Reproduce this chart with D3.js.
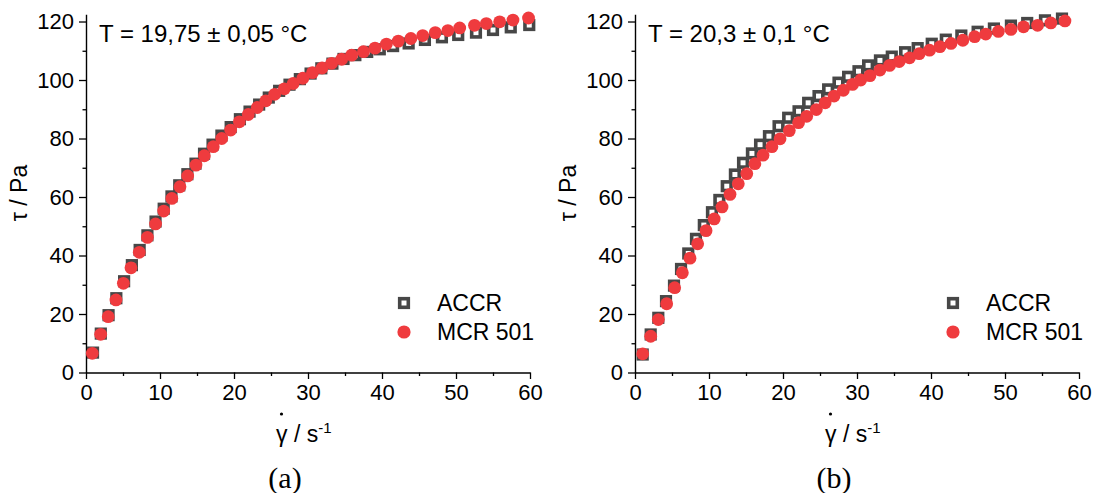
<!DOCTYPE html>
<html>
<head>
<meta charset="utf-8">
<script src="https://cdnjs.cloudflare.com/ajax/libs/d3/7.8.5/d3.min.js"></script>
<style>
  body { margin: 0; background: #fff; }
  text { font-family: "Liberation Sans", Arial, sans-serif; fill: #000; }
</style>
</head>
<body>
<svg id="chart"></svg>
<script>
// panel (a)
var accrA_x = [0.95, 2.0, 3.05, 4.1, 5.15, 6.2, 7.25, 8.3, 9.4, 10.5, 11.55, 12.6, 13.7, 14.8, 15.95, 17.1, 18.3, 19.55, 20.8, 22.1, 23.4, 24.7, 26.1, 27.5, 28.9, 30.35, 31.8, 33.3, 34.8, 36.4, 38.0, 39.7, 41.5, 43.6, 45.8, 48.1, 50.3, 52.7, 55.0, 57.4, 59.9];
var accrA_y = [6.8, 13.3, 19.6, 25.4, 31.2, 36.7, 41.9, 46.9, 51.6, 56.0, 60.2, 64.0, 67.8, 71.4, 74.8, 77.9, 81.0, 83.9, 86.6, 89.2, 91.6, 94.0, 96.3, 98.4, 100.3, 102.2, 104.0, 105.6, 107.2, 108.5, 109.6, 110.5, 111.6, 112.5, 113.7, 114.6, 115.4, 116.2, 117.1, 118.0, 118.8];
var mcrA_x = [0.85, 1.98, 3.0, 4.05, 5.05, 6.08, 7.2, 8.3, 9.4, 10.5, 11.6, 12.7, 13.74, 14.86, 15.99, 17.2, 18.34, 19.55, 20.72, 21.93, 23.15, 24.3, 25.5, 26.8, 28.0, 29.3, 30.6, 31.9, 33.2, 34.55, 35.9, 37.5, 39.05, 40.6, 42.2, 43.9, 45.5, 47.2, 48.9, 50.5, 52.5, 54.1, 55.9, 57.7, 59.8];
var mcrA_y = [6.56, 13.06, 19.08, 24.8, 30.5, 35.8, 41.1, 46.2, 50.8, 55.2, 59.5, 63.5, 67.2, 70.9, 74.1, 77.2, 80.0, 82.9, 85.7, 88.2, 90.6, 92.9, 95.1, 97.0, 98.8, 100.6, 102.5, 104.1, 105.7, 107.1, 108.5, 109.7, 110.9, 112.3, 113.3, 114.2, 115.2, 116.2, 116.9, 117.8, 118.7, 119.3, 119.9, 120.5, 121.2];

// panel (b)
var accrB_x = [1.04, 2.12, 3.15, 4.19, 5.27, 6.22, 7.2, 8.24, 9.3, 10.4, 11.4, 12.4, 13.5, 14.6, 15.8, 16.9, 18.1, 19.4, 20.7, 22.1, 23.4, 24.8, 26.1, 27.5, 28.8, 30.2, 31.5, 33.1, 34.7, 36.5, 38.2, 40.1, 42.0, 44.1, 46.3, 48.5, 50.8, 53.0, 55.4, 57.7];
var accrB_y = [6.15, 13.0, 18.7, 24.4, 29.7, 35.4, 40.7, 45.7, 50.4, 54.8, 59.0, 63.7, 67.7, 71.7, 74.9, 77.9, 80.8, 84.2, 87.1, 89.3, 92.2, 94.5, 96.8, 99.1, 101.1, 103.0, 105.0, 106.7, 108.0, 109.5, 110.9, 112.4, 113.8, 115.2, 116.5, 117.6, 118.6, 119.5, 120.4, 121.0];
var mcrB_x = [1.04, 2.12, 3.15, 4.28, 5.36, 6.4, 7.43, 8.47, 9.6, 10.7, 11.76, 12.84, 13.96, 15.1, 16.2, 17.3, 18.5, 19.6, 20.85, 22.1, 23.2, 24.5, 25.7, 26.9, 28.15, 29.4, 30.5, 31.75, 33.1, 34.4, 35.7, 37.1, 38.4, 39.8, 41.2, 42.7, 44.3, 45.9, 47.4, 49.1, 50.8, 52.5, 54.4, 56.2, 58.1];
var mcrB_y = [6.4, 12.4, 18.1, 23.5, 29.0, 34.1, 39.1, 44.0, 48.5, 52.5, 56.6, 60.9, 64.5, 68.0, 71.4, 74.3, 77.2, 79.9, 82.7, 85.4, 87.6, 89.9, 92.2, 94.5, 96.5, 98.5, 100.0, 101.5, 103.4, 105.0, 106.3, 107.6, 109.0, 110.2, 111.4, 112.5, 113.6, 114.8, 115.7, 116.6, 117.3, 118.2, 118.7, 119.5, 120.2];

var xTicks = [0, 10, 20, 30, 40, 50, 60];
var xMinor = [5, 15, 25, 35, 45, 55];
var yTicks = [0, 20, 40, 60, 80, 100, 120];
var yMinor = [10, 30, 50, 70, 90, 110];
var seriesNames = ["ACCR", "MCR 501"];
var tempLabels = ["T = 19,75 \u00b1 0,05 \u00b0C", "T = 20,3 \u00b1 0,1 \u00b0C"];
var panelLabels = ["(a)", "(b)"];

var width = 1097;
var height = 493;
var svg = d3.select("#chart").attr("width", width).attr("height", height);

var red = "#ef3b3e";
var grey = "#474747";

function zip(xs, ys) {
  return xs.map(function(x, i) { return {x: x, y: ys[i]}; });
}

function drawPanel(i, left, accr, mcr) {
  var x = d3.scaleLinear().domain([0, 60]).range([left, left + 444]);
  var y = d3.scaleLinear().domain([0, 122.5]).range([372.5, 14.2]);
  var g = svg.append("g");

  // minor ticks
  g.append("g").attr("transform", "translate(0,372.5)")
    .call(d3.axisBottom(x).tickValues(xMinor).tickFormat("").tickSize(3.5).tickSizeOuter(0))
    .call(function(s) { s.select(".domain").remove(); s.selectAll("line").attr("stroke-width", 1.3); });
  g.append("g").attr("transform", "translate(" + left + ",0)")
    .call(d3.axisLeft(y).tickValues(yMinor).tickFormat("").tickSize(3.5).tickSizeOuter(0))
    .call(function(s) { s.select(".domain").remove(); s.selectAll("line").attr("stroke-width", 1.3); });

  var xa = g.append("g").attr("transform", "translate(0,372.5)")
    .call(d3.axisBottom(x).tickValues(xTicks).tickSize(6.5).tickSizeOuter(0).tickPadding(5));
  var ya = g.append("g").attr("transform", "translate(" + left + ",0)")
    .call(d3.axisLeft(y).tickValues(yTicks).tickSize(7).tickSizeOuter(0).tickPadding(5));
  [xa, ya].forEach(function(a) {
    a.select(".domain").attr("stroke-width", 1.4);
    a.selectAll("line").attr("stroke-width", 1.3);
    a.selectAll("text").style("font-size", "22px").style("font-family", "'Liberation Sans', Arial, sans-serif");
  });

  // ACCR squares
  g.selectAll("rect.accr").data(zip(accr[0], accr[1])).enter().append("rect")
    .attr("class", "accr")
    .attr("x", function(d) { return x(d.x) - 4.3; })
    .attr("y", function(d) { return y(d.y) - 4.3; })
    .attr("width", 8.6).attr("height", 8.6)
    .attr("fill", "#fff").attr("stroke", grey).attr("stroke-width", 3.6);

  // MCR circles
  g.selectAll("circle.mcr").data(zip(mcr[0], mcr[1])).enter().append("circle")
    .attr("class", "mcr")
    .attr("cx", function(d) { return x(d.x); })
    .attr("cy", function(d) { return y(d.y); })
    .attr("r", 6.4)
    .attr("fill", red);

  // temperature
  g.append("text").attr("x", left + 13).attr("y", 42)
    .style("font-size", "24px").text(tempLabels[i]);

  // legend
  var lx = left + 318;
  g.append("rect").attr("x", lx - 4.3).attr("y", 303 - 4.3).attr("width", 8.6).attr("height", 8.6)
    .attr("fill", "#fff").attr("stroke", grey).attr("stroke-width", 3.6);
  g.append("circle").attr("cx", lx).attr("cy", 332).attr("r", 6.6).attr("fill", red);
  g.append("text").attr("x", lx + 33).attr("y", 311).style("font-size", "23px").text(seriesNames[0]);
  g.append("text").attr("x", lx + 33).attr("y", 340).style("font-size", "23px").text(seriesNames[1]);

  // y title
  g.append("text")
    .attr("transform", "translate(" + (left - 59) + ",193) rotate(-90)")
    .attr("text-anchor", "middle")
    .style("font-size", "23px")
    .text("\u03c4 / Pa");

  // x title, with dot over the gamma
  var cx = (x(0) + x(60)) / 2;
  var xt = g.append("text").attr("x", cx - 32).attr("y", 442).style("font-size", "23px");
  xt.append("tspan").text("\u03b3 / s");
  xt.append("tspan").attr("dy", -9).style("font-size", "15px").text("-1");
  g.append("circle").attr("cx", cx - 26.5).attr("cy", 414).attr("r", 1.6).attr("fill", "#000");

  // panel label
  g.append("text").attr("x", cx - 23).attr("y", 488).attr("text-anchor", "middle")
    .style("font-family", "'Liberation Serif', 'Times New Roman', serif")
    .style("font-size", "30px").text(panelLabels[i]);
}

drawPanel(0, 86, [accrA_x, accrA_y], [mcrA_x, mcrA_y]);
drawPanel(1, 635, [accrB_x, accrB_y], [mcrB_x, mcrB_y]);
</script>
</body>
</html>
